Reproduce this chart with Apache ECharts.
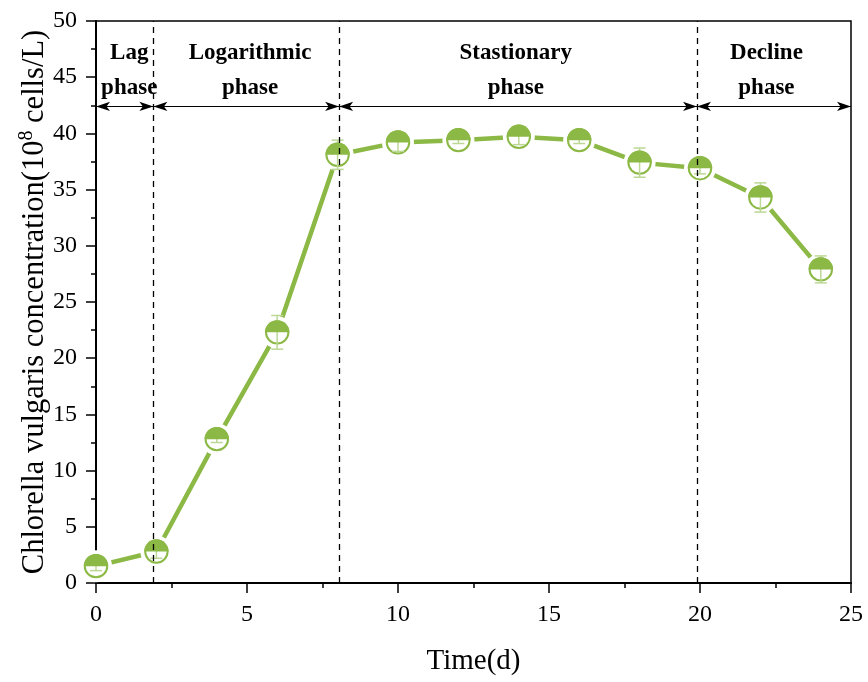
<!DOCTYPE html>
<html>
<head>
<meta charset="utf-8">
<script src="https://cdn.jsdelivr.net/npm/echarts@6/dist/echarts.min.js"></script>
<style>
html,body{margin:0;padding:0;background:#fff;}
#main{width:868px;height:682px;}
</style>
</head>
<body>
<div id="main"></div>
<script>
// 数据
var days = [0, 2, 4, 6, 8, 10, 12, 14, 16, 18, 20, 22, 24];
var conc = [1.5, 2.8, 12.8, 22.3, 38.1, 39.2, 39.4, 39.7, 39.4, 37.4, 36.9, 34.3, 27.9];
var errs = [0.4, 0.6, 0.3, 1.5, 1.3, 0.8, 0.3, 0.7, 0.3, 1.3, 0.5, 1.3, 1.2];
// 阶段分界线
var phaseBounds = [1.9, 8.05, 19.9];
var phaseNames = ['Lag\nphase', 'Logarithmic\nphase', 'Stastionary\nphase', 'Decline\nphase'];
var phaseCenters = [1.1, 5.1, 13.9, 22.2];
var arrowY = 42.4;
var labelY = 45.6;

var green = '#8cb945';
var lightGreen = '#bcd895';
var font = '"Liberation Serif", "Times New Roman", serif';

var pts = days.map(function (d, i) { return [d, conc[i]]; });
var errData = days.map(function (d, i) { return [d, conc[i], conc[i] - errs[i], conc[i] + errs[i]]; });

// 箭头区间
var edges = [0].concat(phaseBounds).concat([25]);
var arrowLines = [];
for (var i = 0; i < edges.length - 1; i++) {
    arrowLines.push([{coord: [edges[i], arrowY]}, {coord: [edges[i + 1], arrowY]}]);
}
var vLines = phaseBounds.map(function (b) { return {xAxis: b}; });
var phaseLabelData = phaseNames.map(function (n, i) { return [phaseCenters[i], labelY]; });

var chart = echarts.init(document.getElementById('main'));
var option = {
    animation: false,
    grid: {
        left: 96, right: 17, top: 21, bottom: 99,
        show: true, borderColor: '#000', borderWidth: 1.5
    },
    xAxis: {
        type: 'value', min: 0, max: 25, interval: 5,
        name: 'Time(d)', nameLocation: 'middle', nameGap: 64,
        nameTextStyle: {fontFamily: font, fontSize: 29, color: '#000'},
        axisLine: {show: true, lineStyle: {color: '#000', width: 2}},
        axisTick: {show: true, inside: false, length: 10, lineStyle: {color: '#000', width: 1.5}},
        minorTick: {show: true, splitNumber: 2, length: 5, lineStyle: {color: '#000', width: 1.5}},
        axisLabel: {fontFamily: font, fontSize: 24, color: '#000', margin: 20},
        splitLine: {show: false}
    },
    yAxis: {
        type: 'value', min: 0, max: 50, interval: 5,
        name: 'Chlorella vulgaris concentration(10{sup|8} cells/L)',
        nameLocation: 'middle', nameGap: 44, nameRotate: 90, nameMoveOverlap: false,
        nameTextStyle: {
            fontFamily: font, fontSize: 30.5, color: '#000',
            rich: {sup: {fontFamily: font, fontSize: 20, color: '#000', verticalAlign: 'top', padding: [0, 0, 15, 0]}}
        },
        axisLine: {show: true, lineStyle: {color: '#000', width: 2}},
        axisTick: {show: true, inside: false, length: 10, lineStyle: {color: '#000', width: 1.5}},
        minorTick: {show: true, splitNumber: 2, length: 5, lineStyle: {color: '#000', width: 1.5}},
        axisLabel: {fontFamily: font, fontSize: 24, color: '#000', margin: 19},
        splitLine: {show: false}
    },
    series: [
        {
            // 折线（白色圆形遮挡出间隙）
            type: 'line', data: pts, z: 2,
            symbol: 'circle', symbolSize: 32,
            itemStyle: {color: '#fff', borderWidth: 0},
            lineStyle: {color: green, width: 4.5},
            markLine: {
                silent: true, symbol: ['none', 'none'],
                label: {show: false},
                lineStyle: {color: '#000', type: [6, 5], width: 1.3},
                data: vLines
            }
        },
        {
            // 箭头
            type: 'line', data: [], z: 1,
            markLine: {
                silent: true, symbol: ['arrow', 'arrow'], symbolSize: [7, 14],
                label: {show: false},
                lineStyle: {color: '#000', type: 'solid', width: 1},
                data: arrowLines
            }
        },
        {
            // 半实心圆 + 误差棒
            type: 'custom', z: 4, data: errData,
            renderItem: function (params, api) {
                var x = api.value(0);
                var c = api.coord([x, api.value(1)]);
                var lo = api.coord([x, api.value(2)]);
                var hi = api.coord([x, api.value(3)]);
                var r = 11.2;
                var w = 6;
                var st = {stroke: lightGreen, lineWidth: 1.5};
                return {
                    type: 'group',
                    children: [
                        {type: 'circle', shape: {cx: c[0], cy: c[1], r: r}, style: {fill: '#fff', stroke: green, lineWidth: 2}},
                        {type: 'line', shape: {x1: lo[0], y1: lo[1], x2: hi[0], y2: hi[1]}, style: st},
                        {type: 'line', shape: {x1: lo[0] - w, y1: lo[1], x2: lo[0] + w, y2: lo[1]}, style: st},
                        {type: 'line', shape: {x1: hi[0] - w, y1: hi[1], x2: hi[0] + w, y2: hi[1]}, style: st},
                        {type: 'sector', shape: {cx: c[0], cy: c[1], r0: 0, r: r + 1, startAngle: Math.PI, endAngle: 2 * Math.PI, clockwise: true}, style: {fill: green}}
                    ]
                };
            }
        },
        {
            // 阶段文字
            type: 'custom', z: 6, data: phaseLabelData, silent: true,
            renderItem: function (params, api) {
                var p = api.coord([api.value(0), api.value(1)]);
                return {
                    type: 'text',
                    x: p[0], y: p[1],
                    style: {
                        text: phaseNames[params.dataIndex],
                        fontFamily: font, fontSize: 23, fontWeight: 'bold', fill: '#000',
                        align: 'center', verticalAlign: 'middle', lineHeight: 35
                    }
                };
            }
        }
    ]
};
chart.setOption(option);
</script>
</body>
</html>
